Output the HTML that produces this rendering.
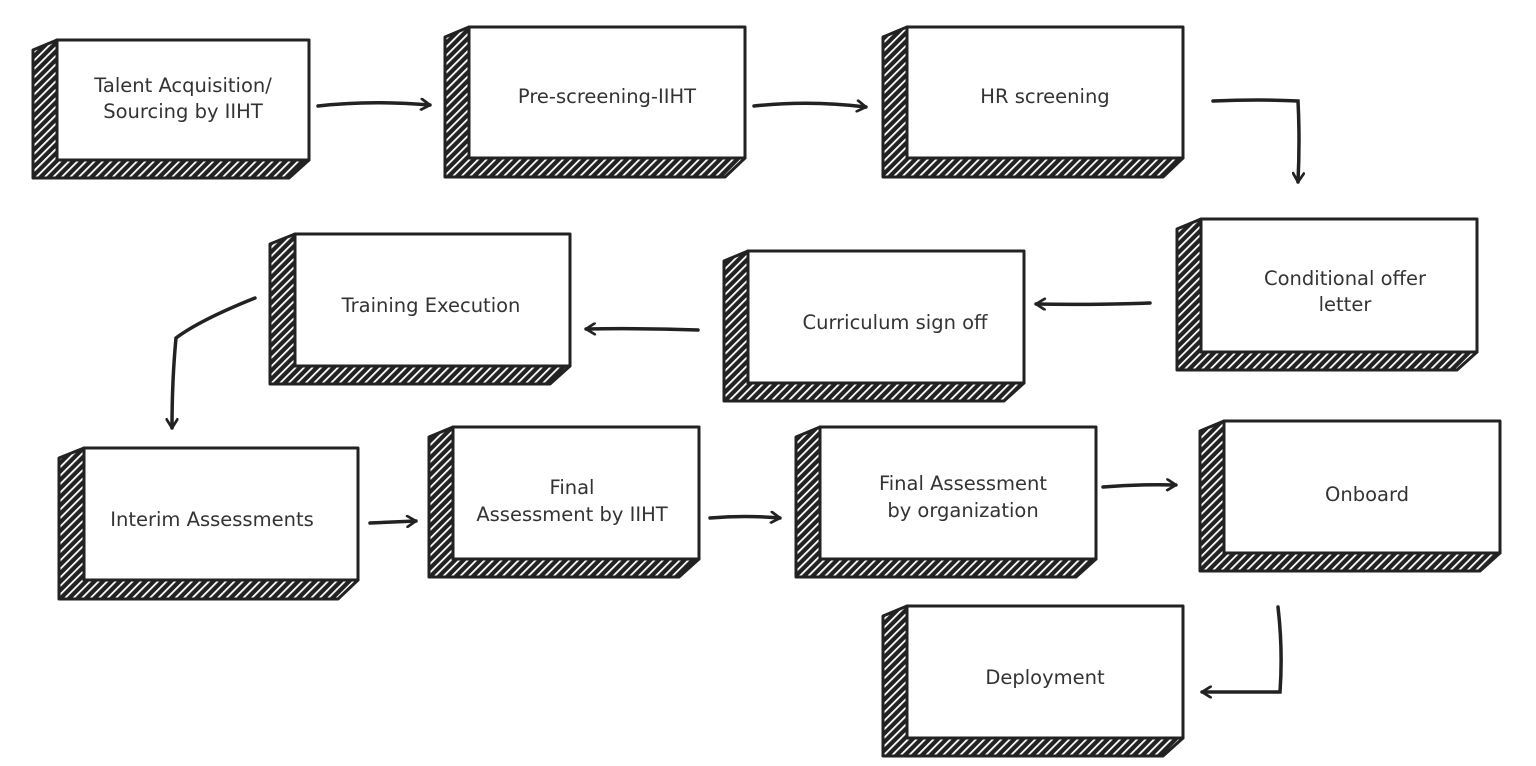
<!DOCTYPE html>
<html><head><meta charset="utf-8"><style>
html,body{margin:0;padding:0;background:#fff;}
svg{display:block}
text{font-family:"DejaVu Sans","Liberation Sans",sans-serif;font-size:19.5px;fill:#333;text-anchor:middle}
</style></head><body>
<svg width="1536" height="766" viewBox="0 0 1536 766" xmlns="http://www.w3.org/2000/svg">
<defs>
<pattern id="h" width="6" height="6" patternUnits="userSpaceOnUse" patternTransform="rotate(45)">
<rect width="6" height="6" fill="#222"/>
<rect x="0" y="0" width="1.8" height="6" fill="#fff"/>
</pattern>
<marker id="a" viewBox="0 0 12 12" refX="10" refY="6" markerWidth="13" markerHeight="13" markerUnits="userSpaceOnUse" orient="auto">
<path d="M2,1 L10,6 L2,11" fill="none" stroke="#222" stroke-width="2.5" stroke-linecap="round" stroke-linejoin="round"/>
</marker>
</defs>
<g stroke="#222" stroke-width="3" stroke-linejoin="round">
<polygon points="57,40 33,50 33,178 289,178 309,160 57,160" fill="url(#h)"/><rect x="57" y="40" width="252" height="120" fill="#fff"/>
<polygon points="469,27 445,37 445,177 725,177 745,158 469,158" fill="url(#h)"/><rect x="469" y="27" width="276" height="131" fill="#fff"/>
<polygon points="907,27 883,37 883,177 1163,177 1183,158 907,158" fill="url(#h)"/><rect x="907" y="27" width="276" height="131" fill="#fff"/>
<polygon points="1201,219 1177,229 1177,370 1457,370 1477,352 1201,352" fill="url(#h)"/><rect x="1201" y="219" width="276" height="133" fill="#fff"/>
<polygon points="748,251 724,261 724,401 1004,401 1024,383 748,383" fill="url(#h)"/><rect x="748" y="251" width="276" height="132" fill="#fff"/>
<polygon points="295,234 270,244 270,384 550,384 570,366 295,366" fill="url(#h)"/><rect x="295" y="234" width="275" height="132" fill="#fff"/>
<polygon points="84,448 59,458 59,599 338,599 358,580 84,580" fill="url(#h)"/><rect x="84" y="448" width="274" height="132" fill="#fff"/>
<polygon points="453,427 429,437 429,577 679,577 699,559 453,559" fill="url(#h)"/><rect x="453" y="427" width="246" height="132" fill="#fff"/>
<polygon points="820,427 796,437 796,577 1076,577 1096,559 820,559" fill="url(#h)"/><rect x="820" y="427" width="276" height="132" fill="#fff"/>
<polygon points="1224,421 1200,431 1200,571 1480,571 1500,553 1224,553" fill="url(#h)"/><rect x="1224" y="421" width="276" height="132" fill="#fff"/>
<polygon points="907,606 883,616 883,756 1163,756 1183,738 907,738" fill="url(#h)"/><rect x="907" y="606" width="276" height="132" fill="#fff"/>
</g>
<g fill="none" stroke="#222" stroke-width="3.5" stroke-linecap="round" marker-end="url(#a)">
<path d="M318,106 Q370,100 430,105"/>
<path d="M754,106 Q810,100 866,107"/>
<path d="M1213,101 Q1260,99 1298,101 Q1300,140 1298,182"/>
<path d="M1150,303 Q1090,305 1036,304"/>
<path d="M698,330 Q640,328 586,329"/>
<path d="M255,298 Q200,320 176,338 Q172,380 172,428"/>
<path d="M370,523 Q395,522 416,521"/>
<path d="M710,518 Q745,515 780,518"/>
<path d="M1103,487 Q1140,484 1176,485"/>
<path d="M1278,607 Q1283,650 1280,692 Q1240,692 1202,692"/>
</g>
<text x="183" y="92">Talent Acquisition/</text>
<text x="183" y="118">Sourcing by IIHT</text>
<text x="607" y="103">Pre-screening-IIHT</text>
<text x="1045" y="103">HR screening</text>
<text x="1345" y="285">Conditional offer</text>
<text x="1345" y="311">letter</text>
<text x="895" y="329">Curriculum sign off</text>
<text x="431" y="312">Training Execution</text>
<text x="212" y="526">Interim Assessments</text>
<text x="572" y="494">Final</text>
<text x="572" y="521">Assessment by IIHT</text>
<text x="963" y="490">Final Assessment</text>
<text x="963" y="517">by organization</text>
<text x="1367" y="501">Onboard</text>
<text x="1045" y="684">Deployment</text>
</svg>
</body></html>
